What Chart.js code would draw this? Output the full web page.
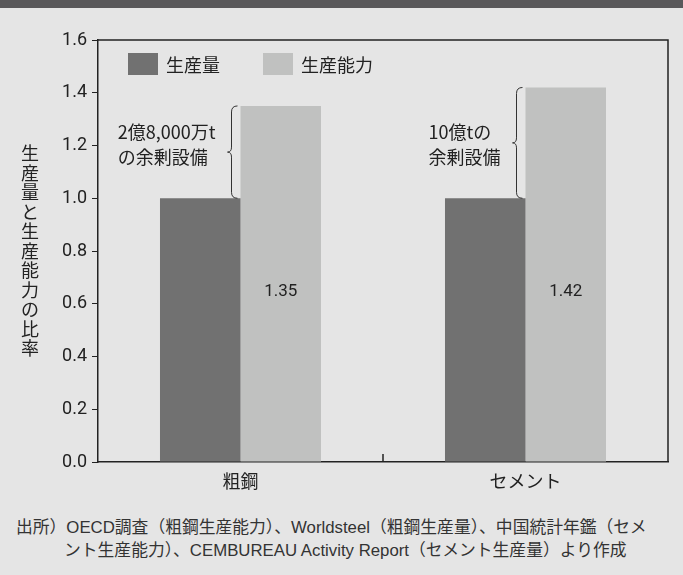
<!DOCTYPE html>
<html>
<head>
<meta charset="utf-8">
<script src="https://cdn.jsdelivr.net/npm/chart.js@4"></script>
<style>
  html, body { margin: 0; padding: 0; }
  body { width: 683px; height: 575px; background: #e5e5e5; overflow: hidden; font-family: "Noto Sans CJK JP", sans-serif; }
  .band { height: 8px; background: #59585a; }
  .wrap { position: relative; width: 683px; height: 497px; }
  .source { color: #333; font-family: "Liberation Sans", "Noto Sans CJK JP", sans-serif; font-size: 16.8px; line-height: 23px; margin-top: 11px; }
  .source div { white-space: nowrap; }
  .l1 { padding-left: 16px; }
  .l2 { padding-left: 64px; }
</style>
</head>
<body>
<div class="band"></div>
<div class="wrap"><canvas id="chart"></canvas></div>
<div class="source">
  <div class="l1">出所）OECD調査（粗鋼生産能力）、Worldsteel（粗鋼生産量）、中国統計年鑑（セメ</div>
  <div class="l2">ント生産能力）、CEMBUREAU Activity Report（セメント生産量）より作成</div>
</div>
<script>
// data
const categories = ['粗鋼', 'セメント'];
const production = [1.0, 1.0];
const capacity = [1.35, 1.42];
const seriesNames = ['生産量', '生産能力'];
const surplusNotes = [['2億8,000万t', 'の余剰設備'], ['10億tの', '余剰設備']];
const yAxisTitle = '生産量と生産能力の比率';

const jp = '"Noto Sans CJK JP", sans-serif';
const colors = ['#717171', '#c0c1c0'];

// legend, frame, braces, labels, vertical axis title
const extras = {
  id: 'extras',
  afterDatasetsDraw(chart) {
    const ctx = chart.ctx;
    const a = chart.chartArea;
    const xs = chart.scales.x, ys = chart.scales.y;
    ctx.save();

    // frame top/right
    ctx.strokeStyle = '#222';
    ctx.lineWidth = 1.5;
    ctx.beginPath();
    ctx.moveTo(a.left, a.top);
    ctx.lineTo(a.right, a.top);
    ctx.lineTo(a.right, a.bottom);
    ctx.stroke();

    // middle tick between categories
    const mid = (xs.getPixelForValue(0) + xs.getPixelForValue(1)) / 2;
    ctx.beginPath();
    ctx.moveTo(mid, a.bottom);
    ctx.lineTo(mid, a.bottom - 8);
    ctx.stroke();

    // legend
    ctx.font = '18px ' + jp;
    ctx.textBaseline = 'middle';
    ctx.textAlign = 'left';
    let lx = a.left + 30;
    seriesNames.forEach((name, i) => {
      ctx.fillStyle = colors[i];
      ctx.fillRect(lx, a.top + 13, 30, 22);
      ctx.fillStyle = '#222';
      ctx.fillText(name, lx + 38, a.top + 25);
      lx += 135;
    });

    // value labels inside capacity bars
    const capMeta = chart.getDatasetMeta(1);
    ctx.font = '17px Roboto, ' + jp;
    ctx.textAlign = 'center';
    capMeta.data.forEach((bar, i) => {
      ctx.fillText(capacity[i].toFixed(2), bar.x, ys.getPixelForValue(0.645));
    });

    // braces + notes
    capMeta.data.forEach((bar, i) => {
      const left = bar.x - bar.width / 2;
      const yTop = ys.getPixelForValue(capacity[i]);
      const yBot = ys.getPixelForValue(production[i]);
      const ym = (yTop + yBot) / 2;
      const xr = left - 3, xs2 = left - 9, xt = left - 13;
      ctx.strokeStyle = '#333';
      ctx.lineWidth = 1;
      ctx.beginPath();
      ctx.moveTo(xr, yTop);
      ctx.quadraticCurveTo(xs2, yTop, xs2, yTop + 6);
      ctx.lineTo(xs2, ym - 5);
      ctx.quadraticCurveTo(xs2, ym, xt, ym);
      ctx.quadraticCurveTo(xs2, ym, xs2, ym + 5);
      ctx.lineTo(xs2, yBot - 6);
      ctx.quadraticCurveTo(xs2, yBot, xr, yBot);
      ctx.stroke();

      ctx.font = '18px ' + jp;
      ctx.fillStyle = '#222';
      ctx.textAlign = 'left';
      const lines = surplusNotes[i];
      const w = Math.max(...lines.map(t => ctx.measureText(t).width));
      const tx = xt - 12 - w;
      const ty = ys.getPixelForValue(1.2) - 1;
      ctx.fillText(lines[0], tx, ty - 12.5);
      ctx.fillText(lines[1], tx, ty + 12.5);
    });

    // vertical y-axis title, upright characters
    ctx.font = '18px ' + jp;
    ctx.textAlign = 'center';
    const chars = Array.from(yAxisTitle);
    const step = 19.5;
    let cy = (a.top + a.bottom) / 2 - (chars.length - 1) * step / 2;
    chars.forEach(c => {
      ctx.fillText(c, 30, cy);
      cy += step;
    });

    ctx.restore();
  }
};

new Chart(document.getElementById('chart'), {
  type: 'bar',
  data: {
    labels: categories,
    datasets: [
      { label: seriesNames[0], data: production, backgroundColor: colors[0], barPercentage: 1, categoryPercentage: 0.565 },
      { label: seriesNames[1], data: capacity, backgroundColor: colors[1], barPercentage: 1, categoryPercentage: 0.565 },
    ],
  },
  options: {
    responsive: true,
    maintainAspectRatio: false,
    animation: false,
    layout: { padding: { top: 32, right: 15, left: 0, bottom: 0 } },
    plugins: { legend: { display: false }, tooltip: { enabled: false } },
    scales: {
      x: {
        grid: { display: false },
        border: { color: '#222', width: 1.5 },
        ticks: { color: '#222', font: { size: 18, family: jp }, padding: 0 },
        afterFit(s) { s.height = 43; },
      },
      y: {
        min: 0,
        max: 1.6,
        ticks: { stepSize: 0.2, color: '#222', font: { size: 18, family: 'Roboto, sans-serif' }, padding: 5,
          callback: v => v.toFixed(1) },
        grid: { drawOnChartArea: false, tickLength: 6, color: '#222', lineWidth: 1 },
        border: { color: '#222', width: 1.5 },
        afterFit(s) { s.width = 98; },
      },
    },
  },
  plugins: [extras],
});
</script>
</body>
</html>
